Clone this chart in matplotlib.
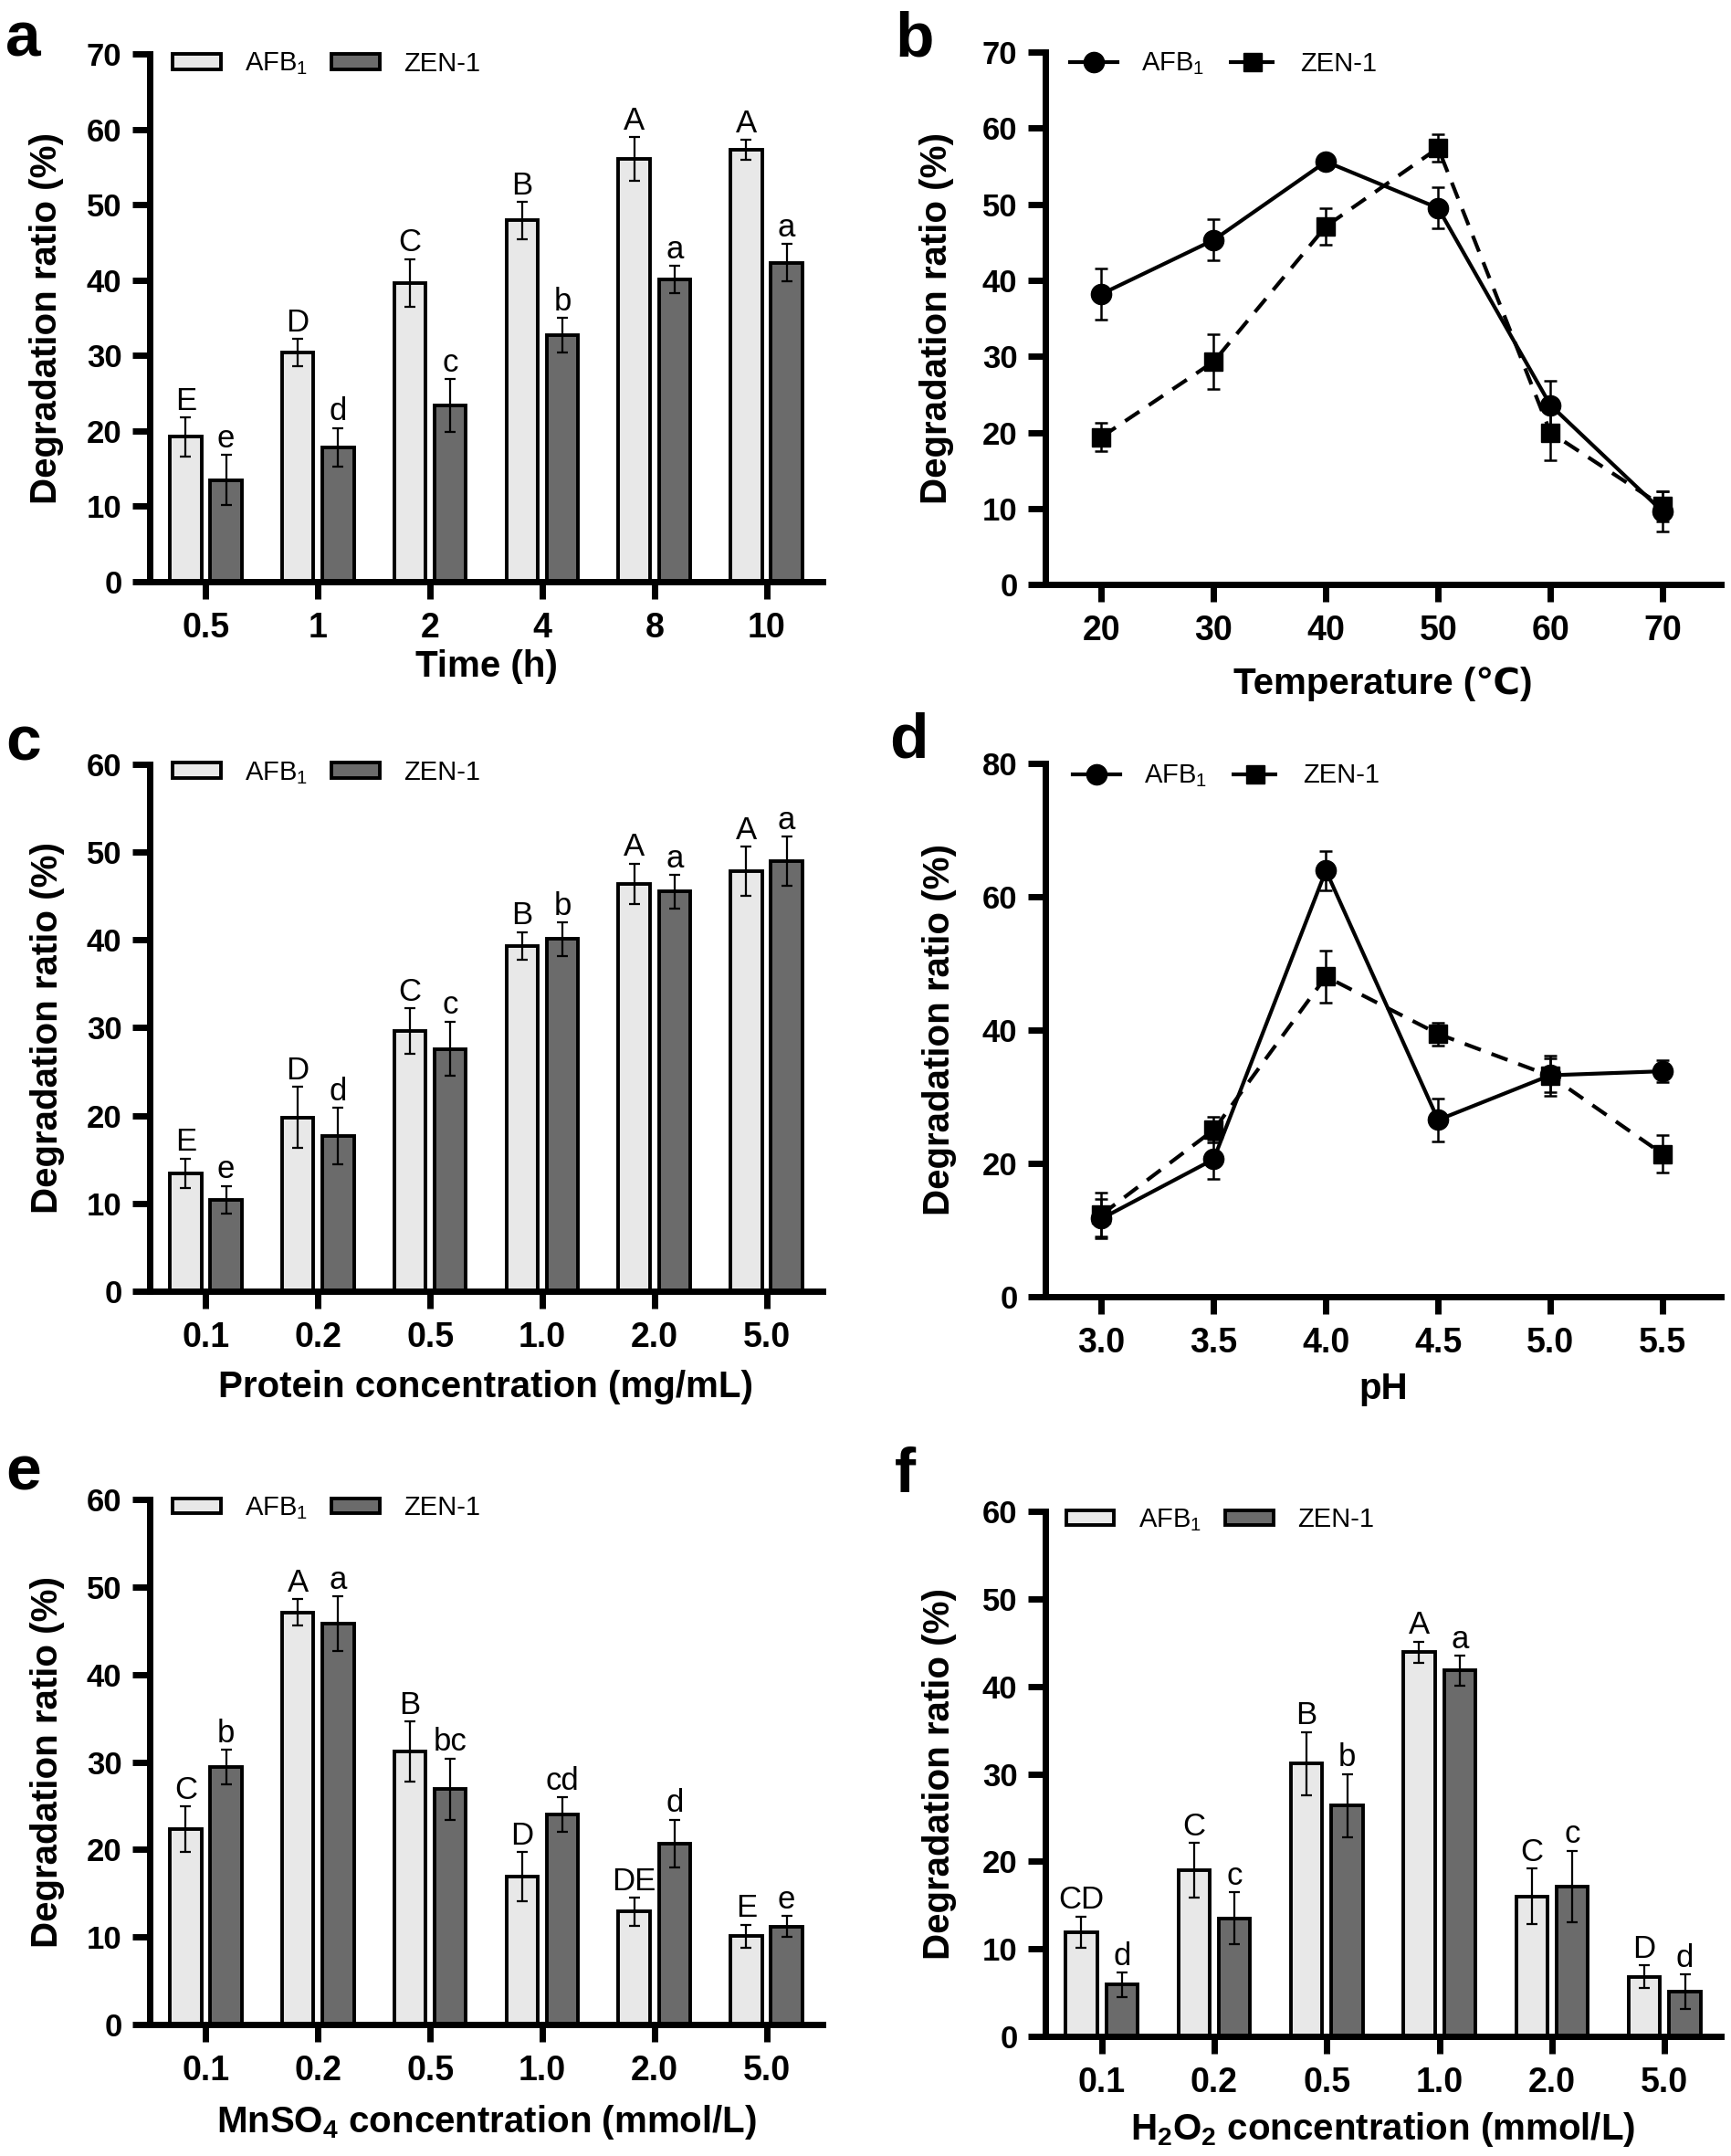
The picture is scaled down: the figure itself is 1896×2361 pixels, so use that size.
import matplotlib
matplotlib.use("Agg")
import matplotlib.pyplot as plt
import numpy as np

plt.rcParams['font.family'] = ['Liberation Sans', 'DejaVu Sans']
plt.rcParams['mathtext.fontset'] = 'custom'
plt.rcParams['mathtext.rm'] = 'Liberation Sans'
plt.rcParams['mathtext.it'] = 'Liberation Sans:italic'
plt.rcParams['mathtext.bf'] = 'Liberation Sans:bold'

LIGHT = '#e8e8e8'
DARK = '#6b6b6b'

# a: reaction time
time_labels = ['0.5', '1', '2', '4', '8', '10']
time_afb = [19.2, 30.4, 39.6, 47.9, 56.1, 57.3]
time_afb_err = [2.6, 1.8, 3.2, 2.5, 2.9, 1.3]
time_zen = [13.5, 17.8, 23.4, 32.7, 40.1, 42.3]
time_zen_err = [3.3, 2.6, 3.5, 2.3, 1.8, 2.5]
time_afb_letters = ['E', 'D', 'C', 'B', 'A', 'A']
time_zen_letters = ['e', 'd', 'c', 'b', 'a', 'a']

# b: temperature
temp = [20, 30, 40, 50, 60, 70]
temp_afb = [38.2, 45.3, 55.6, 49.5, 23.6, 9.6]
temp_afb_err = [3.4, 2.7, 0.9, 2.7, 3.2, 2.6]
temp_zen = [19.4, 29.3, 47.1, 57.4, 20.0, 10.3]
temp_zen_err = [1.9, 3.6, 2.4, 1.8, 3.7, 2.0]

# c: protein concentration
conc_labels = ['0.1', '0.2', '0.5', '1.0', '2.0', '5.0']
prot_afb = [13.4, 19.8, 29.6, 39.3, 46.4, 47.8]
prot_afb_err = [1.7, 3.5, 2.6, 1.6, 2.3, 2.8]
prot_zen = [10.4, 17.7, 27.6, 40.1, 45.5, 49.0]
prot_zen_err = [1.6, 3.2, 3.1, 1.9, 1.9, 2.8]
prot_afb_letters = ['E', 'D', 'C', 'B', 'A', 'A']
prot_zen_letters = ['e', 'd', 'c', 'b', 'a', 'a']

# d: pH
ph = [3.0, 3.5, 4.0, 4.5, 5.0, 5.5]
ph_afb = [11.7, 20.6, 63.9, 26.5, 33.2, 33.8]
ph_afb_err = [3.0, 2.9, 2.9, 3.2, 2.5, 1.6]
ph_zen = [12.3, 25.0, 48.0, 39.4, 33.1, 21.4]
ph_zen_err = [3.3, 1.9, 3.9, 1.7, 3.0, 2.8]

# e: MnSO4 concentration
mn_afb = [22.3, 47.1, 31.2, 16.9, 12.9, 10.1]
mn_afb_err = [2.6, 1.5, 3.4, 2.8, 1.6, 1.3]
mn_zen = [29.4, 45.8, 26.9, 24.0, 20.7, 11.2]
mn_zen_err = [2.0, 3.1, 3.5, 2.0, 2.7, 1.2]
mn_afb_letters = ['C', 'A', 'B', 'D', 'DE', 'E']
mn_zen_letters = ['b', 'a', 'bc', 'cd', 'd', 'e']

# f: H2O2 concentration
h2o2_afb = [11.9, 19.0, 31.2, 43.9, 16.0, 6.8]
h2o2_afb_err = [1.8, 3.1, 3.6, 1.2, 3.2, 1.3]
h2o2_zen = [5.9, 13.5, 26.4, 41.8, 17.1, 5.1]
h2o2_zen_err = [1.4, 3.0, 3.6, 1.7, 4.1, 2.0]
h2o2_afb_letters = ['CD', 'C', 'B', 'A', 'C', 'D']
h2o2_zen_letters = ['d', 'c', 'b', 'a', 'c', 'd']

W, H = 1896, 2361


def style_axes(ax, ymax, ystep, xlabel, xlabel_y, ylabel_x, legend_xy):
    for side in ['top', 'right']:
        ax.spines[side].set_visible(False)
    for side in ['left', 'bottom']:
        ax.spines[side].set_linewidth(5)
        ax.spines[side].set_capstyle('projecting')
    ax.set_ylim(0, ymax)
    ax.set_yticks(np.arange(0, ymax + 1, ystep))
    ax.tick_params(axis='both', width=5, length=14)
    ax.tick_params(axis='y', labelsize=25, pad=8)
    ax.tick_params(axis='x', labelsize=27, pad=10)
    plt.setp(ax.get_xticklabels() + ax.get_yticklabels(), fontweight='bold')

    ax.set_ylabel('Degradation ratio (%)', fontsize=29, fontweight='bold', va='center')
    ax.yaxis.set_label_coords(ylabel_x, 0.5)
    ax.set_xlabel(xlabel, fontsize=29, fontweight='bold', va='baseline')
    ax.xaxis.set_label_coords(0.5, xlabel_y)

    ax.legend(loc='center left', bbox_to_anchor=legend_xy, ncol=2, frameon=False,
              fontsize=21, handlelength=1.8, handleheight=0.5, handletextpad=0.9,
              columnspacing=0.9, borderaxespad=0, borderpad=0, numpoints=1)


def bar_panel(ax, labels, afb, afb_err, zen, zen_err, afb_letters, zen_letters):
    x = np.arange(len(labels))
    w, off = 0.28, 0.18
    ax.bar(x - off, afb, w, color=LIGHT, edgecolor='black', linewidth=2.8,
           label='AFB$_1$', zorder=2)
    ax.bar(x + off, zen, w, color=DARK, edgecolor='black', linewidth=2.8,
           label='ZEN-1', zorder=2)
    ax.errorbar(x - off, afb, yerr=afb_err, fmt='none', ecolor='black',
                elinewidth=1.6, capsize=4, capthick=1.6, zorder=3)
    ax.errorbar(x + off, zen, yerr=zen_err, fmt='none', ecolor='black',
                elinewidth=1.6, capsize=4, capthick=1.6, zorder=3)
    for xs, vals, errs, letters in [(x - off, afb, afb_err, afb_letters),
                                    (x + off, zen, zen_err, zen_letters)]:
        for xi, v, e, t in zip(xs, vals, errs, letters):
            ax.annotate(t, (xi, v + e), xytext=(0, 6), textcoords='offset points',
                        ha='center', va='baseline', fontsize=25)
    ax.set_xlim(-0.5, 5.5)
    ax.set_xticks(x, labels)


def line_panel(ax, x, afb, afb_err, zen, zen_err):
    ax.errorbar(x, afb, yerr=afb_err, fmt='none', ecolor='black',
                elinewidth=1.8, capsize=5, capthick=1.8, zorder=2)
    ax.errorbar(x, zen, yerr=zen_err, fmt='none', ecolor='black',
                elinewidth=1.8, capsize=5, capthick=1.8, zorder=2)
    ax.plot(x, afb, color='black', lw=3, marker='o', ms=16, label='AFB$_1$', zorder=3)
    ax.plot(x, zen, color='black', lw=3, ls=(0, (4.5, 3)), marker='s', ms=15,
            label='ZEN-1', zorder=3)
    ax.set_xticks(x)


fig = plt.figure(figsize=(W / 100, H / 100), dpi=100)

ax_a = fig.add_axes([0.0865, 0.7302, 0.3887, 0.2448])
bar_panel(ax_a, time_labels, time_afb, time_afb_err, time_zen, time_zen_err,
          time_afb_letters, time_zen_letters)
style_axes(ax_a, 70, 10, 'Time (h)', -0.18, -0.153, (0.034, 0.981))

ax_b = fig.add_axes([0.6039, 0.7289, 0.3903, 0.2469])
line_panel(ax_b, temp, temp_afb, temp_afb_err, temp_zen, temp_zen_err)
ax_b.set_xlim(15, 75.2)
style_axes(ax_b, 70, 10, 'Temperature (℃)', -0.206, -0.161, (0.036, 0.978))

ax_c = fig.add_axes([0.0865, 0.4011, 0.3887, 0.2444])
bar_panel(ax_c, conc_labels, prot_afb, prot_afb_err, prot_zen, prot_zen_err,
          prot_afb_letters, prot_zen_letters)
style_axes(ax_c, 60, 10, 'Protein concentration (mg/mL)', -0.201, -0.152, (0.034, 0.984))

ax_d = fig.add_axes([0.6039, 0.3986, 0.3903, 0.2474])
line_panel(ax_d, ph, ph_afb, ph_afb_err, ph_zen, ph_zen_err)
ax_d.set_xlim(2.75, 5.76)
ax_d.set_xticks(ph, [f'{v:.1f}' for v in ph])
style_axes(ax_d, 80, 20, 'pH', -0.192, -0.157, (0.04, 0.976))

ax_e = fig.add_axes([0.0865, 0.0610, 0.3887, 0.2435])
bar_panel(ax_e, conc_labels, mn_afb, mn_afb_err, mn_zen, mn_zen_err,
          mn_afb_letters, mn_zen_letters)
style_axes(ax_e, 60, 10, r'MnSO$_\mathbf{4}$ concentration (mmol/L)', -0.205, -0.152,
           (0.034, 0.983))

ax_f = fig.add_axes([0.6039, 0.0555, 0.3903, 0.2435])
bar_panel(ax_f, conc_labels, h2o2_afb, h2o2_afb_err, h2o2_zen, h2o2_zen_err,
          h2o2_afb_letters, h2o2_zen_letters)
style_axes(ax_f, 60, 10, r'H$_\mathbf{2}$O$_\mathbf{2}$ concentration (mmol/L)', -0.197, -0.157,
           (0.031, 0.983))

panel_letters = [('a', 6, 62), ('b', 980, 62), ('c', 6, 832),
                 ('d', 974, 830), ('e', 6, 1632), ('f', 980, 1634)]
for letter, px, py in panel_letters:
    fig.text(px / W, 1 - py / H, letter, fontsize=50, fontweight='bold',
             ha='left', va='baseline')

fig.savefig('out.png', dpi=100)
